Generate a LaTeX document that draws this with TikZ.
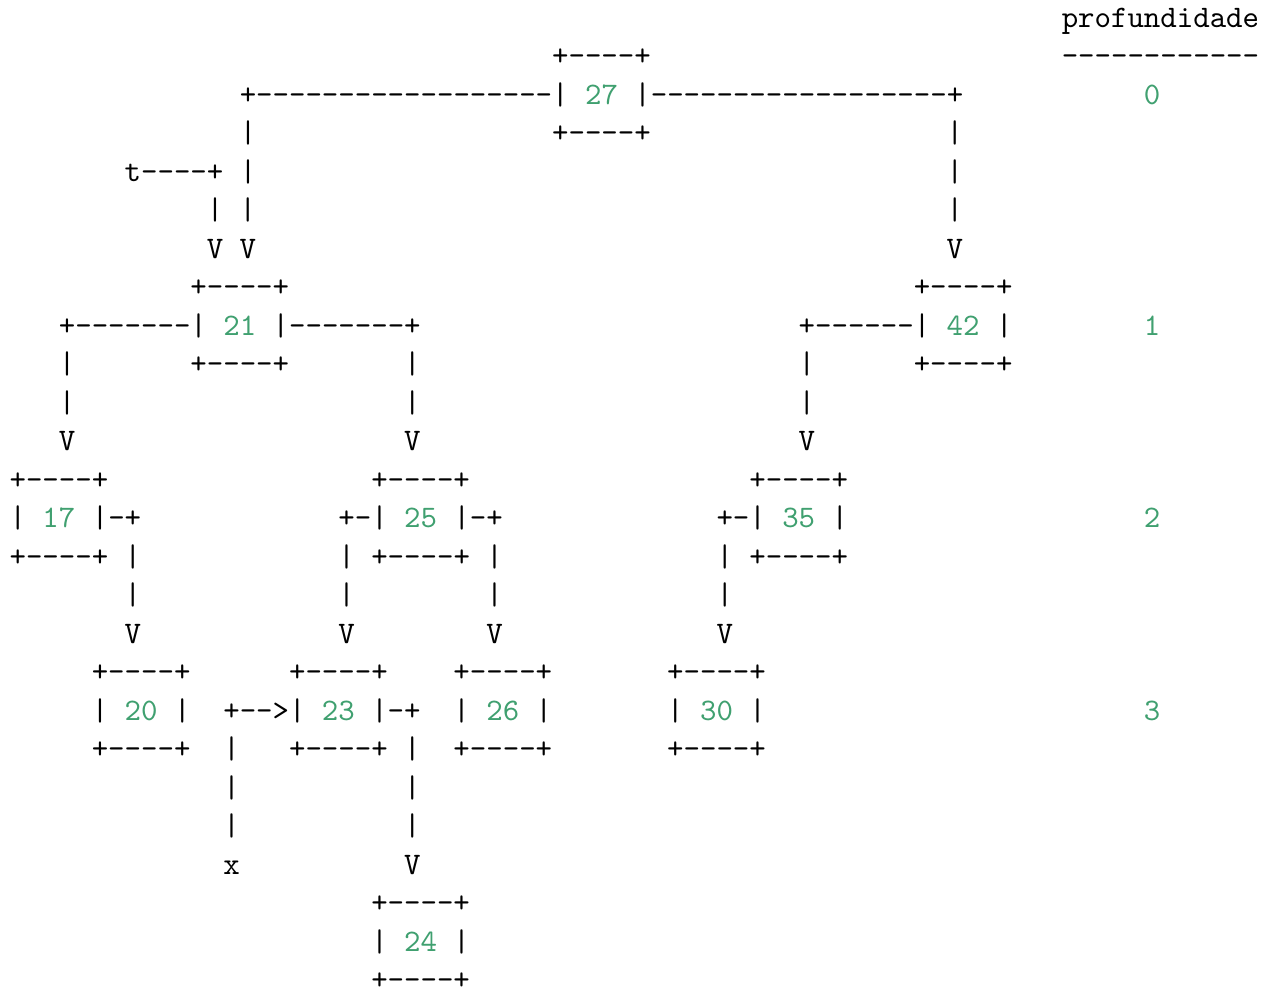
\documentclass[tikz,border=0pt]{standalone}
\usepackage{fontspec}
\setmonofont{lmmono10-regular.otf}
\definecolor{numgreen}{HTML}{40A070}
\tikzset{
  txt/.style={anchor=base west, inner sep=0pt, outer sep=0pt,
    font=\ttfamily\fontsize{15.66}{19}\selectfont}
}
% one run of characters: name, column, row, text
\newcommand\seg[4]{\node[txt] (#1) at ({9.6+16.44*#2},{27.3+38.5*#3}) {#4};}
\newcommand\num[1]{\textcolor{numgreen}{#1}}
\begin{document}
\begin{tikzpicture}[x=0.5pt,y=-0.5pt]
\useasboundingbox (0,0) rectangle (1266,991);
% depth column
\seg{hdr}{64}{0}{profundidade}
\seg{hdrrule}{64}{1}{------------}
\seg{d0}{69}{2}{\num{0}}
\seg{d1}{69}{8}{\num{1}}
\seg{d2}{69}{13}{\num{2}}
\seg{d3}{69}{18}{\num{3}}
% root 27
\seg{a27t}{33}{1}{+----+}
\seg{a27}{14}{2}{+------------------|~\num{27}~|------------------+}
\seg{a27b}{33}{3}{+----+}
\seg{l3a}{14}{3}{|}
\seg{l3b}{57}{3}{|}
\seg{l4a}{7}{4}{t----+~|}
\seg{l4b}{57}{4}{|}
\seg{l5a}{12}{5}{|~|}
\seg{l5b}{57}{5}{|}
\seg{l6a}{12}{6}{V~V}
\seg{l6b}{57}{6}{V}
% level 1: 21 and 42
\seg{a21t}{11}{7}{+----+}
\seg{a42t}{55}{7}{+----+}
\seg{a21}{3}{8}{+-------|~\num{21}~|-------+}
\seg{a42}{48}{8}{+------|~\num{42}~|}
\seg{l9a}{3}{9}{|}
\seg{a21b}{11}{9}{+----+}
\seg{l9b}{24}{9}{|}
\seg{l9c}{48}{9}{|}
\seg{a42b}{55}{9}{+----+}
\seg{l10a}{3}{10}{|}
\seg{l10b}{24}{10}{|}
\seg{l10c}{48}{10}{|}
\seg{l11a}{3}{11}{V}
\seg{l11b}{24}{11}{V}
\seg{l11c}{48}{11}{V}
% level 2: 17, 25, 35
\seg{a17t}{0}{12}{+----+}
\seg{a25t}{22}{12}{+----+}
\seg{a35t}{45}{12}{+----+}
\seg{a17}{0}{13}{|~\num{17}~|-+}
\seg{a25}{20}{13}{+-|~\num{25}~|-+}
\seg{a35}{43}{13}{+-|~\num{35}~|}
\seg{a17b}{0}{14}{+----+~|}
\seg{a25b}{20}{14}{|~+----+~|}
\seg{a35b}{43}{14}{|~+----+}
\seg{l15a}{7}{15}{|}
\seg{l15b}{20}{15}{|}
\seg{l15c}{29}{15}{|}
\seg{l15d}{43}{15}{|}
\seg{l16a}{7}{16}{V}
\seg{l16b}{20}{16}{V}
\seg{l16c}{29}{16}{V}
\seg{l16d}{43}{16}{V}
% level 3: 20, 23, 26, 30
\seg{a20t}{5}{17}{+----+}
\seg{a23t}{17}{17}{+----+}
\seg{a26t}{27}{17}{+----+}
\seg{a30t}{40}{17}{+----+}
\seg{a20}{5}{18}{|~\num{20}~|}
\seg{a23}{13}{18}{+-->|~\num{23}~|-+}
\seg{a26}{27}{18}{|~\num{26}~|}
\seg{a30}{40}{18}{|~\num{30}~|}
\seg{a20b}{5}{19}{+----+}
\seg{l19a}{13}{19}{|}
\seg{a23b}{17}{19}{+----+}
\seg{l19b}{24}{19}{|}
\seg{a26b}{27}{19}{+----+}
\seg{a30b}{40}{19}{+----+}
\seg{l20a}{13}{20}{|}
\seg{l20b}{24}{20}{|}
\seg{l21a}{13}{21}{|}
\seg{l21b}{24}{21}{|}
\seg{l22a}{13}{22}{x}
\seg{l22b}{24}{22}{V}
% level 4: 24
\seg{a24t}{22}{23}{+----+}
\seg{a24}{22}{24}{|~\num{24}~|}
\seg{a24b}{22}{25}{+----+}
\end{tikzpicture}
\end{document}
